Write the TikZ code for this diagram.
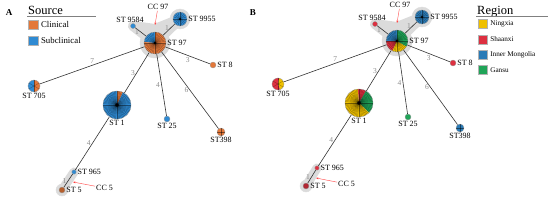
\documentclass[tikz,border=0pt]{standalone}
\usepackage{fontspec}
\setmainfont{Liberation Serif}
\usepackage{xcolor}
\usetikzlibrary{positioning,arrows.meta,backgrounds,calc}

\definecolor{clinical}{HTML}{E3783A}
\definecolor{subclin}{HTML}{2F8AD2}
\definecolor{ningxia}{HTML}{EFC000}
\definecolor{shaanxi}{HTML}{DD3040}
\definecolor{inmong}{HTML}{2B7BB6}
\definecolor{gansu}{HTML}{20A458}

\newcommand{\pieslices}[3]{%
  \foreach \from/\to/\col in {#3}
    \fill[\col] (#1.center) -- ++(\from:#2) arc[start angle=\from, end angle=\to, radius=#2] -- cycle;
  \draw[rim] (#1.center) circle[radius=#2];}
\newcommand{\piespokes}[3]{%
  \foreach \k in {1,...,#3}
    \draw[spoke] (#1.center) -- ++({\k*(360/#3)+90}:#2);}

\begin{document}
\begin{tikzpicture}[x=1pt, y=1pt,
        st/.style={circle, inner sep=0pt, minimum size=#1},
        stlbl/.style={font=\fontsize{8}{9}\selectfont, inner sep=1pt},
        elbl/.style={font=\fontsize{7.5}{8}\selectfont, text=black!45, inner sep=1.5pt},
        link/.style={draw=black!80, line width=.6pt},
        hull/.style={fill=black!14, draw=black!14, line join=round, line cap=round},
        spoke/.style={black, opacity=.45, line width=.25pt},
        hub/.style={fill=black},
        rim/.style={draw=black!40, line width=.3pt},
        ccarrow/.style={-{Stealth[length=2.5pt]}, red!75, line width=.4pt},
        ccname/.style={font=\fontsize{8}{9}\selectfont, inner sep=1pt},
        swatch/.style={draw=black!30, line width=.3pt, minimum size=#1, inner sep=0pt},
        legtitle/.style={font=\fontsize{12.5}{13}\selectfont, inner sep=0pt, anchor=base west},
        panel/.style={font=\fontsize{9}{10}\selectfont\bfseries}
    ]
    \useasboundingbox (0,0) rectangle (550,-201);

    % ---------------- panel A: source ----------------
    \node[panel] (pa) at (9,-13) {A};
    \node[legtitle] (srctitle) at (28,-14) {Source};
    \draw[black!50, line width=.5pt] (27,-16.5) -- (96,-16.5);
    \node[swatch=9.5pt, fill=clinical] (clin) at (33,-24.5) {};
    \node[right=3pt of clin, font=\fontsize{8.8}{9}\selectfont, inner sep=0pt] {Clinical};
    \node[swatch=9.5pt, fill=subclin, below=6.5pt of clin] (subc) {};
    \node[right=3pt of subc, font=\fontsize{8.8}{9}\selectfont, inner sep=0pt] {Subclinical};

    \node[st=22pt, label={[stlbl]right:ST 97}] (a97) at (155,-43) {};
    \node[st=14pt, label={[stlbl]right:ST 9955}] (a9955) at (180,-19) {};
    \node[st=5pt, label={[stlbl, xshift=-3pt]above:ST 9584}] (a9584) at (133,-26) {};
    \node[st=6pt, label={[stlbl]right:ST 8}] (a8) at (213,-65) {};
    \node[st=12pt, label={[stlbl]below:ST 705}] (a705) at (34,-86) {};
    \node[st=28pt, label={[stlbl]below:ST 1}] (a1) at (117,-105) {};
    \node[st=6pt, label={[stlbl]below:ST 25}] (a25) at (167,-119) {};
    \node[st=8pt, label={[stlbl]below:ST398}] (a398) at (221,-132) {};
    \node[st=4.5pt, label={[stlbl]right:ST 965}] (a965) at (74,-172) {};
    \node[st=6pt, label={[stlbl]right:ST 5}] (a5) at (62,-190) {};

    \begin{scope}[on background layer]
        \fill[hull] (a97.center) circle[radius=15];
        \fill[hull] (a9955.center) circle[radius=10];
        \filldraw[hull, line width=10pt] (a9584.center) -- (155,-29) -- (a9955.center) -- (a97.center) -- cycle;
        \draw[hull, line width=9pt] (a965.center) -- (a5.center);
        \fill[hull] (a5.center) circle[radius=6];
    \end{scope}

    \draw[link] (a97) -- node[elbl, above] {7} (a705);
    \draw[link] (a97) -- node[elbl, left] {3} (a1);
    \draw[link] (a97) -- node[elbl, left] {4} (a25);
    \draw[link] (a97) -- node[elbl, left] {6} (a398);
    \draw[link] (a97) -- node[elbl, below] {3} (a8);
    \draw[link] (a97) -- node[elbl, left] {1} (a9584);
    \draw[link] (a97) -- node[elbl, left, pos=.65] {1} (a9955);
    \draw[link] (a1) -- node[elbl, left] {4} (a965);
    \draw[link] (a965) -- node[elbl, left] {1} (a5);

    \pieslices{a97}{11}{90/175/subclin, 175/450/clinical}
    \piespokes{a97}{11}{40}
    \fill[hub] (a97.center) circle[radius=1.2];
    \pieslices{a9955}{7}{0/360/subclin}
    \piespokes{a9955}{7}{20}
    \fill[hub] (a9955.center) circle[radius=.8];
    \pieslices{a9584}{2.5}{0/360/subclin}
    \pieslices{a8}{3}{0/360/clinical}
    \pieslices{a705}{6}{90/270/subclin, 270/450/clinical}
    \piespokes{a705}{6}{6}
    \pieslices{a1}{14}{65/90/clinical, 90/425/subclin}
    \piespokes{a1}{14}{60}
    \fill[hub] (a1.center) circle[radius=1.8];
    \pieslices{a25}{3}{0/360/subclin}
    \pieslices{a398}{4}{0/360/clinical}
    \piespokes{a398}{4}{4}
    \pieslices{a965}{2.2}{0/360/subclin}
    \pieslices{a5}{3}{0/360/clinical!80!black}

    \node[ccname] (acc97) at (158,-7) {CC 97};
    \coordinate (acc97tip) at (155,-25);
    \draw[ccarrow] (acc97) -- (acc97tip);
    \node[ccname, anchor=west] (acc5) at (95,-188) {CC 5};
    \coordinate (acc5tip) at (73,-182);
    \draw[ccarrow] (acc5) -- (acc5tip);

    % ---------------- panel B: region ----------------
    \node[panel] (pb) at (253,-13) {B};
    \node[legtitle] (regtitle) at (477,-14) {Region};
    \draw[black!50, line width=.5pt] (476,-16.5) -- (548,-16.5);
    \node[swatch=9pt, fill=ningxia] (nx) at (482.5,-24) {};
    \node[right=3pt of nx, font=\fontsize{7.2}{8}\selectfont, inner sep=0pt] {Ningxia};
    \node[swatch=9pt, fill=shaanxi, below=6pt of nx] (sx) {};
    \node[right=3pt of sx, font=\fontsize{7.2}{8}\selectfont, inner sep=0pt] {Shaanxi};
    \node[swatch=9pt, fill=inmong, below=6pt of sx] (im) {};
    \node[right=3pt of im, font=\fontsize{7.2}{8}\selectfont, inner sep=0pt] {Inner Mongolia};
    \node[swatch=9pt, fill=gansu, below=6pt of im] (gs) {};
    \node[right=3pt of gs, font=\fontsize{7.2}{8}\selectfont, inner sep=0pt] {Gansu};

    \begin{scope}[shift={(242,2)}]
        \node[st=22pt, label={[stlbl]right:ST 97}] (b97) at (155,-43) {};
        \node[st=14pt, label={[stlbl]right:ST 9955}] (b9955) at (180,-19) {};
        \node[st=5pt, label={[stlbl, xshift=-3pt]above:ST 9584}] (b9584) at (133,-26) {};
        \node[st=6pt, label={[stlbl]right:ST 8}] (b8) at (211,-65) {};
        \node[st=12pt, label={[stlbl]below:ST 705}] (b705) at (36,-86) {};
        \node[st=28pt, label={[stlbl]below:ST 1}] (b1) at (117,-105) {};
        \node[st=6pt, label={[stlbl]below:ST 25}] (b25) at (166,-119) {};
        \node[st=8pt, label={[stlbl]below:ST398}] (b398) at (218,-130) {};
        \node[st=4.5pt, label={[stlbl]right:ST 965}] (b965) at (75,-170) {};
        \node[st=6pt, label={[stlbl]right:ST 5}] (b5) at (64,-188) {};

        \node[ccname] (bcc97) at (158,-7) {CC 97};
        \coordinate (bcc97tip) at (155,-25);
        \node[ccname, anchor=west] (bcc5) at (95,-186) {CC 5};
        \coordinate (bcc5tip) at (74,-180);
    \end{scope}

    \begin{scope}[on background layer]
        \fill[hull] (b97.center) circle[radius=15];
        \fill[hull] (b9955.center) circle[radius=10];
        \filldraw[hull, line width=10pt] (b9584.center) -- ($(b97.center)+(0,14)$) -- (b9955.center) -- (b97.center) -- cycle;
        \draw[hull, line width=9pt] (b965.center) -- (b5.center);
        \fill[hull] (b5.center) circle[radius=6];
    \end{scope}

    \draw[link] (b97) -- node[elbl, above] {7} (b705);
    \draw[link] (b97) -- node[elbl, left] {3} (b1);
    \draw[link] (b97) -- node[elbl, left] {4} (b25);
    \draw[link] (b97) -- node[elbl, left] {6} (b398);
    \draw[link] (b97) -- node[elbl, below] {3} (b8);
    \draw[link] (b97) -- node[elbl, left] {1} (b9584);
    \draw[link] (b97) -- node[elbl, left, pos=.65] {1} (b9955);
    \draw[link] (b1) -- node[elbl, left] {4} (b965);
    \draw[link] (b965) -- node[elbl, left] {1} (b5);

    \pieslices{b97}{11}{90/180/inmong, 180/245/shaanxi, 245/330/ningxia, 330/450/gansu}
    \piespokes{b97}{11}{40}
    \fill[hub] (b97.center) circle[radius=1.2];
    \pieslices{b9955}{7}{0/360/inmong}
    \piespokes{b9955}{7}{20}
    \fill[hub] (b9955.center) circle[radius=.8];
    \pieslices{b9584}{2.5}{0/360/shaanxi}
    \pieslices{b8}{3}{0/360/shaanxi}
    \pieslices{b705}{6}{-70/80/ningxia, 80/290/shaanxi}
    \piespokes{b705}{6}{6}
    \pieslices{b1}{14}{60/95/shaanxi, -45/60/gansu, 95/315/ningxia}
    \piespokes{b1}{14}{60}
    \fill[hub] (b1.center) circle[radius=1.8];
    \pieslices{b25}{3}{0/360/gansu}
    \pieslices{b398}{4}{0/360/inmong}
    \piespokes{b398}{4}{4}
    \pieslices{b965}{2.2}{0/360/shaanxi}
    \pieslices{b5}{3}{0/360/shaanxi!80!black}

    \draw[ccarrow] (bcc97) -- (bcc97tip);
    \draw[ccarrow] (bcc5) -- (bcc5tip);
\end{tikzpicture}
\end{document}
